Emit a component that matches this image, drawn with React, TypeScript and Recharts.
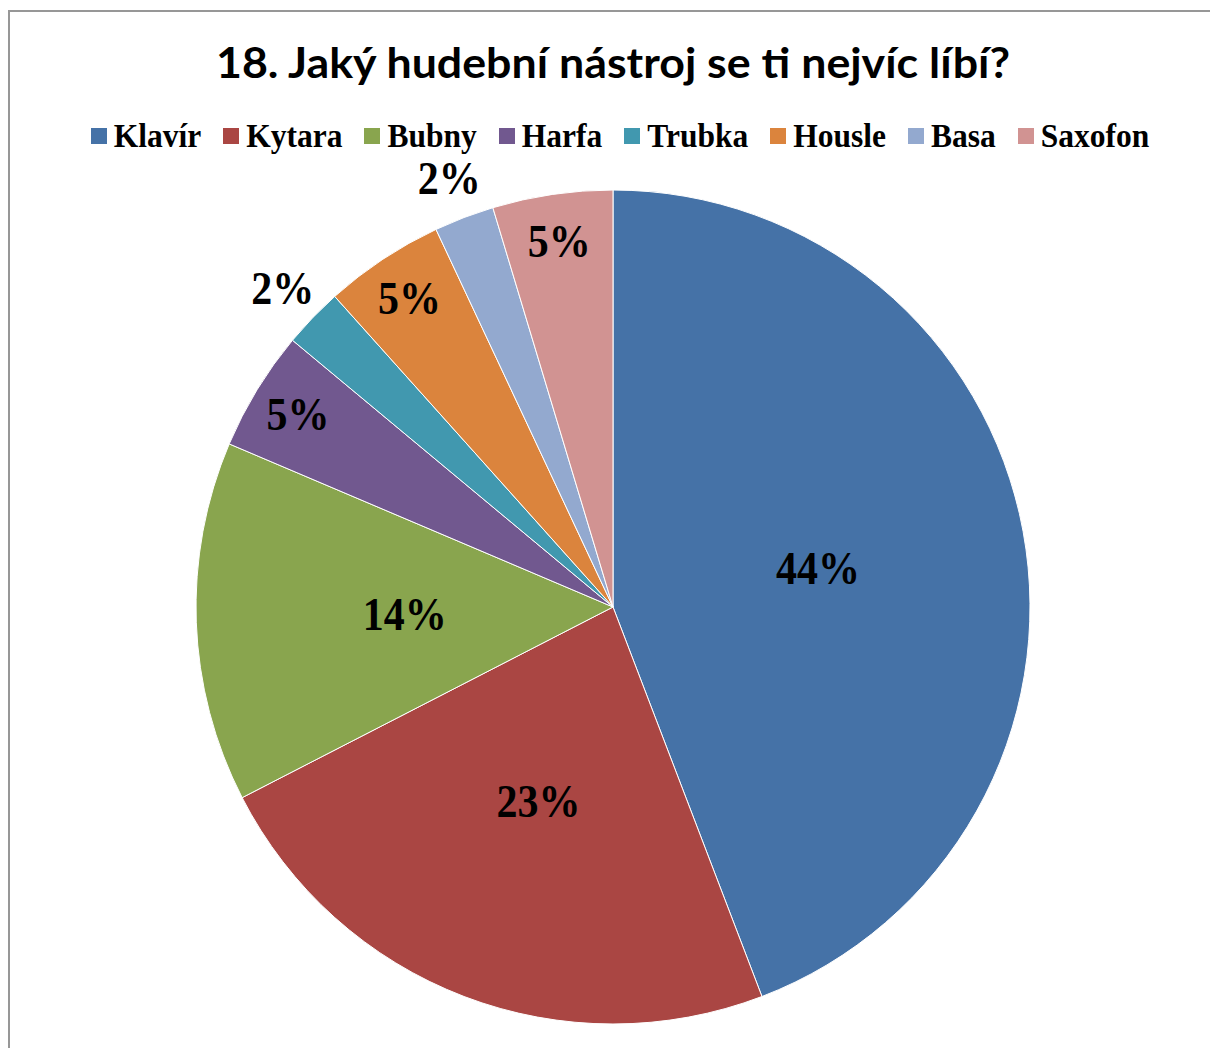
import { PieChart, Pie, Cell, Legend } from 'recharts';

const INSTRUMENTS = ['Klavír', 'Kytara', 'Bubny', 'Harfa', 'Trubka', 'Housle', 'Basa', 'Saxofon'];
const VOTES = [19, 10, 6, 2, 1, 2, 1, 2];
const COLORS = ['#4572A7', '#AA4643', '#89A54E', '#71588F', '#4198AF', '#DB843D', '#93A9CF', '#D19392'];

const data = INSTRUMENTS.map((name, i) => ({ name, value: VOTES[i] }));

const RAD = Math.PI / 180;

// Excel-like label placement: big slices centered, small ones near the rim, tiny ones outside
const renderLabel = (p: any) => {
  const { cx, cy, midAngle, outerRadius, percent } = p;
  const k = percent > 0.1 ? 0.5 : percent > 0.03 ? 0.885 : 1.1;
  const r = outerRadius * k;
  const x = cx + r * Math.cos(-midAngle * RAD);
  const y = cy + r * Math.sin(-midAngle * RAD);
  // the original text is a little taller than Liberation Serif, stretch it a bit
  return (
    <g transform={`translate(${x},${y}) scale(1,1.1)`}>
      <text x={0} y={0} textAnchor="middle" dominantBaseline="central"
        fontFamily="'Liberation Serif', 'Times New Roman', serif" fontWeight="bold" fontSize={42} fill="#000">
        {`${Math.round(percent * 100)}%`}
      </text>
    </g>
  );
};

const LegendContent = () => (
  <div style={{ display: 'flex', justifyContent: 'center', alignItems: 'center', gap: 22 }}>
    {INSTRUMENTS.map((n, i) => (
      <div key={n} style={{ display: 'flex', alignItems: 'center' }}>
        <span style={{ width: 16, height: 16, background: COLORS[i], marginRight: 7, display: 'inline-block' }} />
        <span style={{ fontFamily: "'Liberation Serif', 'Times New Roman', serif", fontWeight: 'bold', fontSize: 31.5, color: '#000', lineHeight: '34px', display: 'inline-block', transform: 'scaleY(1.08)' }}>{n}</span>
      </div>
    ))}
  </div>
);

export default function App() {
  return (
    <div style={{ position: 'relative', width: 1210, height: 1048, overflow: 'hidden', background: '#fff' }}>
      <style>{`body{margin:0}`}</style>
      <div style={{ position: 'absolute', left: 8, top: 10, width: 1300, height: 1100, border: '2px solid #979797' }} />
      <div style={{ position: 'absolute', left: 0, top: 0 }}>
        <PieChart width={1210} height={1048} margin={{ top: 0, right: 0, bottom: 0, left: 0 }}>
          <text x={613} y={78} textAnchor="middle" fontFamily="Lato, 'Open Sans', sans-serif" fontWeight="bold"
            fontSize={42} fill="#000" textLength={794} lengthAdjust="spacingAndGlyphs">
            18. Jaký hudební nástroj se ti nejvíc líbí?
          </text>
          <Legend verticalAlign="top" content={<LegendContent />} wrapperStyle={{ top: 119, left: 15, width: 1210 }} />
          <Pie data={data} dataKey="value" nameKey="name" cx={613} cy={573} outerRadius={417}
            startAngle={90} endAngle={-270} label={renderLabel} labelLine={false}
            stroke="#ffffff" strokeWidth={1} isAnimationActive={false}>
            {data.map((d, i) => <Cell key={d.name} fill={COLORS[i]} />)}
          </Pie>
        </PieChart>
      </div>
    </div>
  );
}
